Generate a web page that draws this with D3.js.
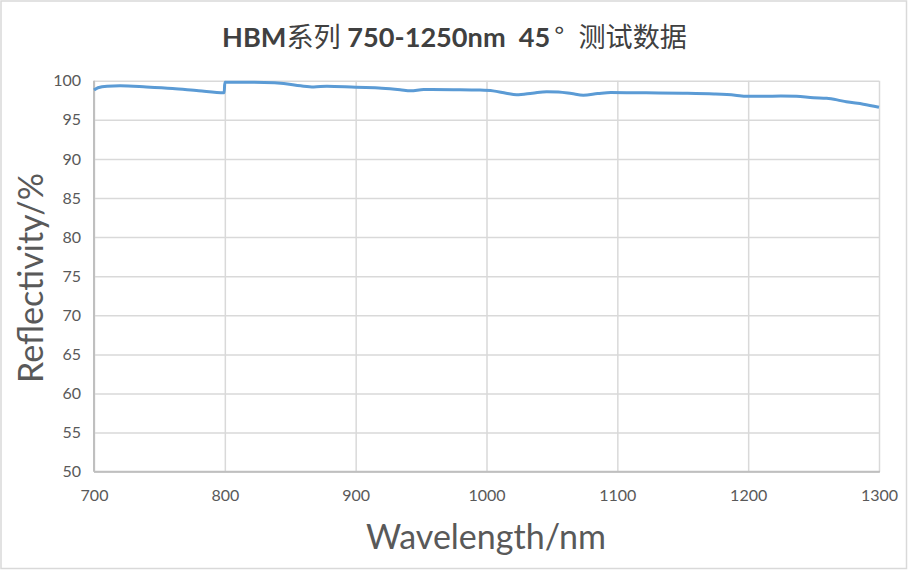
<!DOCTYPE html>
<html><head><meta charset="utf-8">
<script src="https://cdn.jsdelivr.net/npm/d3@7/dist/d3.min.js"></script>
<style>
html,body{margin:0;padding:0;background:#fff;}
svg{display:block;}
</style></head>
<body>
<svg id="chart" width="908" height="570"></svg>
<script>
const wavelengths = [700,703,710,720,740,760,780,799.5,800,815,830,845,858,868,878,900,920,934,942,952,975,995,1005,1015,1023,1035,1046,1055,1065,1074,1085,1095,1122,1150,1174,1190,1199,1212,1225,1237,1250,1260,1268,1275,1288,1300];
const reflectivity = [98.8,99.1,99.3,99.35,99.2,99.0,98.7,98.45,99.8,99.8,99.78,99.65,99.35,99.2,99.3,99.15,99.05,98.85,98.7,98.88,98.85,98.8,98.7,98.4,98.2,98.4,98.6,98.55,98.35,98.15,98.35,98.5,98.45,98.4,98.3,98.15,98.0,98.0,98.05,98.0,97.82,97.75,97.55,97.3,97.0,96.6];
const xTicks = [700,800,900,1000,1100,1200,1300];
const yTicks = [50,55,60,65,70,75,80,85,90,95,100];
const titleParts = [["HBM","b",0],["系列","c",0],[" 750-1250nm  45","b",0],["°","c",4],["测试数据","c",14]];
const xTitle = "Wavelength/nm";
const yTitle = "Reflectivity/%";

const svg = d3.select("#chart");
const W = 908, H = 570;
const L = 94, R = 879, T = 80.7, B = 471.7;

svg.append("rect").attr("x",1).attr("y",1).attr("width",W-2.5).attr("height",H-2.5)
  .attr("fill","#fff").attr("stroke","#d9d9d9").attr("stroke-width",1.5);

const x = d3.scaleLinear().domain([700,1300]).range([L,R]);
const y = d3.scaleLinear().domain([50,100]).range([B,T]);

// grid
const gx = svg.append("g").attr("transform",`translate(0,${B})`)
  .call(d3.axisBottom(x).tickValues(xTicks).tickSize(-(B-T)).tickFormat(""));
gx.select(".domain").remove();
gx.selectAll("line").attr("stroke","#d9d9d9").attr("stroke-width",1.5);
const gy = svg.append("g").attr("transform",`translate(${L},0)`)
  .call(d3.axisLeft(y).tickValues(yTicks).tickSize(-(R-L)).tickFormat(""));
gy.select(".domain").remove();
gy.selectAll("line").attr("stroke","#d9d9d9").attr("stroke-width",1.5);

// axis lines
svg.append("line").attr("x1",L).attr("x2",L).attr("y1",T).attr("y2",B).attr("stroke","#bfbfbf").attr("stroke-width",2);
svg.append("line").attr("x1",L).attr("x2",R+1).attr("y1",B).attr("y2",B).attr("stroke","#bfbfbf").attr("stroke-width",2);

// tick labels
const xa = svg.append("g").attr("transform",`translate(0,${B})`)
  .call(d3.axisBottom(x).tickValues(xTicks).tickSize(0).tickPadding(18).tickFormat(d3.format("d")));
xa.select(".domain").remove();
xa.selectAll("text").attr("fill","#595959").style("font-family","Lato, 'Open Sans', sans-serif").style("font-size","16px");
const ya = svg.append("g").attr("transform",`translate(${L},0)`)
  .call(d3.axisLeft(y).tickValues(yTicks).tickSize(0).tickPadding(13).tickFormat(d3.format("d")));
ya.select(".domain").remove();
ya.selectAll("text").attr("fill","#595959").style("font-family","Lato, 'Open Sans', sans-serif").style("font-size","16px");

// line
const data = wavelengths.map((w,i)=>({w, r: reflectivity[i]}));
svg.append("path").datum(data)
  .attr("fill","none").attr("stroke","#5b9bd5").attr("stroke-width",3).attr("stroke-linejoin","round")
  .attr("d", d3.line().x(d=>x(d.w)).y(d=>y(d.r)).curve(d3.curveMonotoneX));

// title
const title = svg.append("text").attr("x",222).attr("y",46.5).attr("text-anchor","start")
  .attr("fill","#404040").style("font-size","27px").attr("xml:space","preserve")
  .attr("textLength",465).attr("lengthAdjust","spacingAndGlyphs");
titleParts.forEach(([t,k,dx])=>{
  title.append("tspan").text(t).attr("dx",dx)
    .style("font-family", k==="b" ? "Lato, 'Open Sans', sans-serif" : "'Noto Sans CJK SC', sans-serif")
    .style("font-weight", k==="b" ? "bold" : "normal");
});

// axis titles
svg.append("text").attr("x",486).attr("y",549).attr("text-anchor","middle")
  .attr("fill","#595959").style("font-family","Lato, 'Open Sans', sans-serif").style("font-size","34px")
  .text(xTitle);
svg.append("text").attr("transform","translate(43,278) rotate(-90)").attr("text-anchor","middle")
  .attr("fill","#595959").style("font-family","Lato, 'Open Sans', sans-serif").style("font-size","34px")
  .text(yTitle);
</script>
</body></html>
